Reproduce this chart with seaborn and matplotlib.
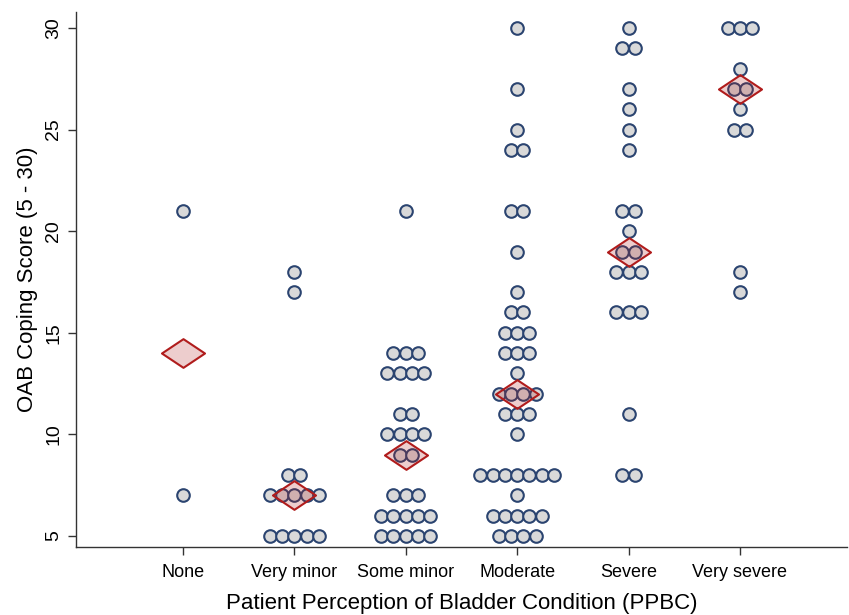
import numpy as np
import pandas as pd
import matplotlib
matplotlib.use("Agg")
import matplotlib.pyplot as plt
import seaborn as sns
from matplotlib.path import Path

# PPBC categories and OAB coping scores
categories = ["None", "Very minor", "Some minor", "Moderate", "Severe", "Very severe"]
none_scores = [21, 7]
very_minor_scores = [18, 17, 8, 8, 7, 7, 7, 7, 7, 5, 5, 5, 5, 5]
some_minor_scores = [21, 14, 14, 14, 13, 13, 13, 13, 11, 11, 10, 10, 10, 10,
                     9, 9, 7, 7, 7, 6, 6, 6, 6, 6, 5, 5, 5, 5, 5]
moderate_scores = [30, 27, 25, 24, 24, 21, 21, 19, 17, 16, 16, 15, 15, 15,
                   14, 14, 14, 13, 12, 12, 12, 12, 11, 11, 11, 10,
                   8, 8, 8, 8, 8, 8, 8, 7, 6, 6, 6, 6, 6, 5, 5, 5, 5]
severe_scores = [30, 29, 29, 27, 26, 25, 24, 21, 21, 20, 19, 19,
                 18, 18, 18, 16, 16, 16, 11, 8, 8]
very_severe_scores = [30, 30, 30, 28, 27, 27, 26, 25, 25, 18, 17]
y_ticks = [5, 10, 15, 20, 25, 30]

all_scores = [none_scores, very_minor_scores, some_minor_scores,
              moderate_scores, severe_scores, very_severe_scores]

df = pd.DataFrame({
    "ppbc": np.repeat(categories, [len(s) for s in all_scores]),
    "score": np.concatenate(all_scores),
})
df["pos"] = df["ppbc"].map({c: i for i, c in enumerate(categories)})

# dots with the same score sit side by side, centred on the category
dot_step = 0.11
grp = df.groupby(["ppbc", "score"])
df["rank"] = grp.cumcount()
df["n"] = grp["score"].transform("size")
df["x"] = df["pos"] + (df["rank"] - (df["n"] - 1) / 2) * dot_step

# medians shown as diamonds
med = df.groupby("pos", as_index=False)["score"].median()

diamond = Path([(-1.5, 0), (0, 1), (1.5, 0), (0, -1), (-1.5, 0)],
               [Path.MOVETO, Path.LINETO, Path.LINETO, Path.LINETO, Path.CLOSEPOLY])

sns.set_style("ticks")
plt.rcParams['font.family'] = ['Liberation Sans', 'DejaVu Sans']
plt.rcParams['text.color'] = 'black'
plt.rcParams['axes.labelcolor'] = 'black'

fig = plt.figure(figsize=(8.49, 6.15), dpi=100)
ax = fig.add_axes([0.0895, 0.1106, 0.908, 0.870])

sns.scatterplot(data=df, x="x", y="score", ax=ax, s=82, color="#d9d9d9",
                edgecolor="#2b4470", linewidth=1.5, zorder=3)
sns.scatterplot(data=med, x="pos", y="score", ax=ax, marker=diamond, s=960,
                color="#b01c1c", edgecolor="#b01c1c", linewidth=1.5, zorder=4)
ax.collections[-1].set_facecolor((0.69, 0.11, 0.11, 0.22))

ax.set_xlim(-0.96, 5.96)
ax.set_ylim(4.46, 30.79)
ax.set_xticks(range(len(categories)))
ax.set_xticklabels(categories, fontsize=13)
ax.set_yticks(y_ticks)
ax.set_yticklabels([str(t) for t in y_ticks], fontsize=14, rotation=90, va="center")
ax.tick_params(axis="both", length=6, width=1, color="#333333",
               labelcolor="black", direction="out")
ax.tick_params(axis="x", pad=6)
ax.tick_params(axis="y", pad=4)

ax.set_xlabel("Patient Perception of Bladder Condition (PPBC)", fontsize=16, labelpad=9)
ax.set_ylabel("OAB Coping Score (5 - 30)", fontsize=16, labelpad=5)

sns.despine(ax=ax)
for side in ["left", "bottom"]:
    ax.spines[side].set_color("#333333")
    ax.spines[side].set_linewidth(1.0)

fig.savefig("out.png", dpi=100)
